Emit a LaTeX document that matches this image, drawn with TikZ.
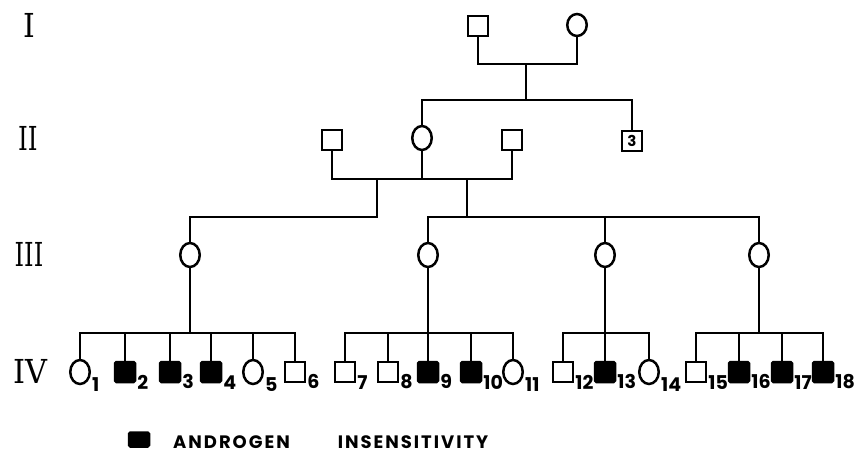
\documentclass[tikz,border=0pt]{standalone}
\usepackage{fontspec}
\usepackage{graphicx}
\usetikzlibrary{shapes.geometric}
\newfontfamily\numfont{Poppins}
\newfontfamily\keyfont[LetterSpace=11]{Poppins}
\newfontfamily\genfont{DejaVu Serif}

\begin{document}
\begin{tikzpicture}[x=1pt, y=-1pt, line width=2.4pt,
  male/.style={draw, rectangle, minimum size=20pt, inner sep=0pt, line width=2.5pt},
  female/.style={draw, ellipse, minimum width=19.5pt, minimum height=24pt, inner sep=0pt, line width=2.5pt},
  affected/.style={male, fill=black, rounded corners=1.5pt},
  gen/.style={font=\genfont\fontsize{33}{33}\selectfont, inner sep=0pt},
  tag/.style={font=\numfont\bfseries\fontsize{19}{19}\selectfont, inner sep=0pt, anchor=south west}]
  \useasboundingbox (0,0) rectangle (855,452);

  % generation labels
  \node[gen] (g1) at (29,25) {\scalebox{.9}[1]{I}};
  \node[gen] (g2) at (28,138) {\scalebox{.75}[1]{II}};
  \node[gen] (g3) at (29,254) {\scalebox{.73}[1]{III}};
  \node[gen] (g4) at (30,371) {\scalebox{.92}[1]{IV}};

  % generation I
  \node[male] (I-1) at (478,26) {};
  \node[female, minimum height=22pt] (I-2) at (577,25) {};
  \coordinate (mI) at (526,64);
  \coordinate (sII) at (526,100);
  \draw (I-1) |- (mI) -| (I-2);
  \draw (mI) -- (sII);

  % generation II
  \node[male] (II-1) at (332,140) {};
  \node[female] (II-2) at (422,138) {};
  \node[male] (II-3) at (512,140) {};
  \node[male, font=\numfont\bfseries\fontsize{15}{15}\selectfont] (II-4) at (632,141) {3};
  \draw (II-2) |- (sII) -| (II-4);

  \coordinate (mIIa) at (377,179);
  \coordinate (mIIb) at (467,179);
  \draw (II-1) |- (mIIa) -- (mIIb) -| (II-3);
  \draw (II-2) -- (II-2 |- mIIa);

  % generation III
  \node[female] (III-1) at (190,255) {};
  \node[female] (III-2) at (428,255) {};
  \node[female] (III-3) at (605,255) {};
  \node[female] (III-4) at (759,255) {};
  \coordinate (sIIIa) at (377,217);
  \coordinate (sIIIb) at (467,217);
  \draw (mIIa) -- (sIIIa) -| (III-1);
  \draw (mIIb) -- (sIIIb);
  \draw (III-2) |- (sIIIb) -| (III-4);
  \draw (III-3) -- (III-3 |- sIIIb);

  % generation IV
  \foreach \x/\kind [count=\i] in {80/female, 125/affected, 170/affected, 211/affected,
      253/female, 295/male, 345/male, 388/male, 428/affected, 471/affected, 513/female,
      563/male, 605/affected, 649/female, 696/male, 739/affected, 782/affected, 823/affected}
  {
    \node[\kind] (IV-\i) at (\x,372) {};
    \node[tag] (t\i) at ([yshift=-7pt]IV-\i.east |- IV-\i.south) {\i};
  }

  \draw (IV-1) |- (IV-6 |- 0,333) -- (IV-6);
  \foreach \i in {2,...,5} \draw (IV-\i) -- (IV-\i |- 0,333);
  \draw (III-1) -- (III-1 |- 0,333);

  \draw (IV-7) |- (IV-11 |- 0,333) -- (IV-11);
  \foreach \i in {8,10} \draw (IV-\i) -- (IV-\i |- 0,333);
  \draw (III-2) -- (IV-9);

  \draw (IV-12) |- (IV-14 |- 0,333) -- (IV-14);
  \draw (III-3) -- (IV-13);

  \draw (IV-15) |- (IV-18 |- 0,333) -- (IV-18);
  \foreach \i in {16,17} \draw (IV-\i) -- (IV-\i |- 0,333);
  \draw (III-4) -- (III-4 |- 0,333);

  % key
  \node[affected, minimum width=20pt, minimum height=14pt] (key) at (139,439.5) {};
  \node[font=\keyfont\bfseries\fontsize{18}{18}\selectfont, inner sep=0pt, anchor=west]
    (keytext) at (172,442) {ANDROGEN\hspace{48pt}INSENSITIVITY};
\end{tikzpicture}
\end{document}
